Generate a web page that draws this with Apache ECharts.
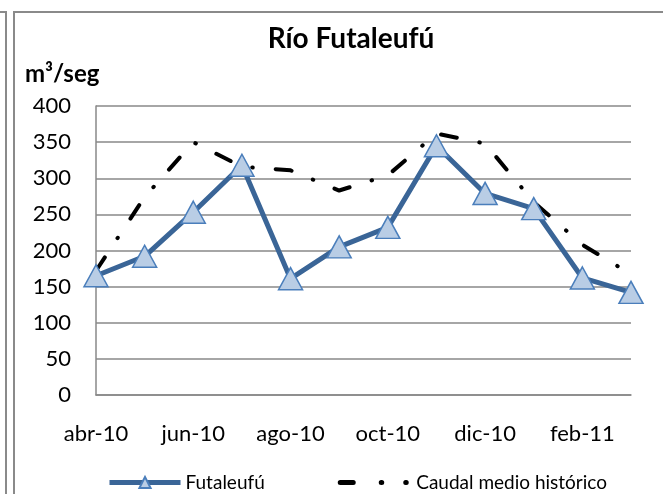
<!DOCTYPE html>
<html>
<head>
<meta charset="utf-8">
<script src="https://cdn.jsdelivr.net/npm/echarts@6/dist/echarts.min.js"></script>
<style>
  html, body { margin: 0; padding: 0; background: #fff; }
  #main { width: 663px; height: 494px; }
</style>
</head>
<body>
<div id="main"></div>
<script>
// meses abr-10 .. mar-11
var meses = ['abr-10', 'may-10', 'jun-10', 'jul-10', 'ago-10', 'sep-10',
             'oct-10', 'nov-10', 'dic-10', 'ene-11', 'feb-11', 'mar-11'];
var futaleufu = [165, 192, 253, 318, 161, 205, 232, 345, 279, 258, 162, 142];
var caudalMedio = [172, 274, 350, 316, 311, 283, 304, 362, 348, 267, 208, 167];
var yTicks = { min: 0, max: 400, step: 50 };

var fuente = 'Lato, "Open Sans", sans-serif';
var myChart = echarts.init(document.getElementById('main'));

var option = {
    animation: false,
    backgroundColor: '#fff',
    title: [
        {
            text: 'Río Futaleufú',
            left: 346, top: 20, textAlign: 'center',
            textStyle: { fontFamily: fuente, fontSize: 28, fontWeight: 'bold', color: '#000' }
        },
        {
            text: 'm³/seg',
            left: 20, top: 57,
            textStyle: { fontFamily: fuente, fontSize: 24, fontWeight: 'bold', color: '#000' }
        }
    ],
    legend: {
        left: 102, top: 468,
        itemWidth: 71, itemHeight: 14, itemGap: 73,
        textStyle: { fontFamily: fuente, fontSize: 19, color: '#000' },
        data: [
            {
                name: 'Futaleufú',
                lineStyle: { width: 5, color: '#3a6597' }
            },
            {
                name: 'Caudal medio histórico',
                itemStyle: { opacity: 0 },
                lineStyle: { width: 5, color: '#000', type: [13, 28, 0.5, 24, 0.5, 40], cap: 'round' }
            }
        ]
    },
    grid: { left: 96, right: 32, top: 106, bottom: 99 },
    xAxis: {
        type: 'category',
        boundaryGap: false,
        data: meses,
        axisLine: { lineStyle: { color: '#888', width: 1.5 } },
        axisTick: { show: false },
        axisLabel: { interval: 1, margin: 28, fontFamily: fuente, fontSize: 22, color: '#000' },
        splitLine: { show: false }
    },
    yAxis: {
        type: 'value',
        min: yTicks.min, max: yTicks.max, interval: yTicks.step,
        axisLine: { show: true, lineStyle: { color: '#888', width: 1.5 } },
        axisTick: { show: false },
        axisLabel: { margin: 25, fontFamily: fuente, fontSize: 22, color: '#000' },
        splitLine: { lineStyle: { color: '#888', width: 1.5 } }
    },
    series: [
        {
            name: 'Caudal medio histórico',
            type: 'line',
            data: caudalMedio,
            symbol: 'none',
            z: 2,
            lineStyle: { color: '#000', width: 4, type: [16, 23, 0.5, 23], cap: 'round' },
            itemStyle: { color: '#000' }
        },
        {
            name: 'Futaleufú',
            type: 'line',
            data: futaleufu,
            symbol: 'triangle',
            symbolSize: [24, 22],
            z: 3,
            lineStyle: { color: '#3a6597', width: 5 },
            itemStyle: { color: '#b9cde5', borderColor: '#4a7ebb', borderWidth: 1.5 }
        }
    ],
    graphic: [
        {
            type: 'polyline', silent: true,
            shape: { points: [[0, 12], [6, 12], [6, 494]] },
            style: { stroke: '#8a8a8a', lineWidth: 2, fill: null }
        },
        {
            type: 'polyline', silent: true,
            shape: { points: [[14, 494], [14, 12], [663, 12]] },
            style: { stroke: '#8a8a8a', lineWidth: 2, fill: null }
        }
    ]
};

myChart.setOption(option);
</script>
</body>
</html>
